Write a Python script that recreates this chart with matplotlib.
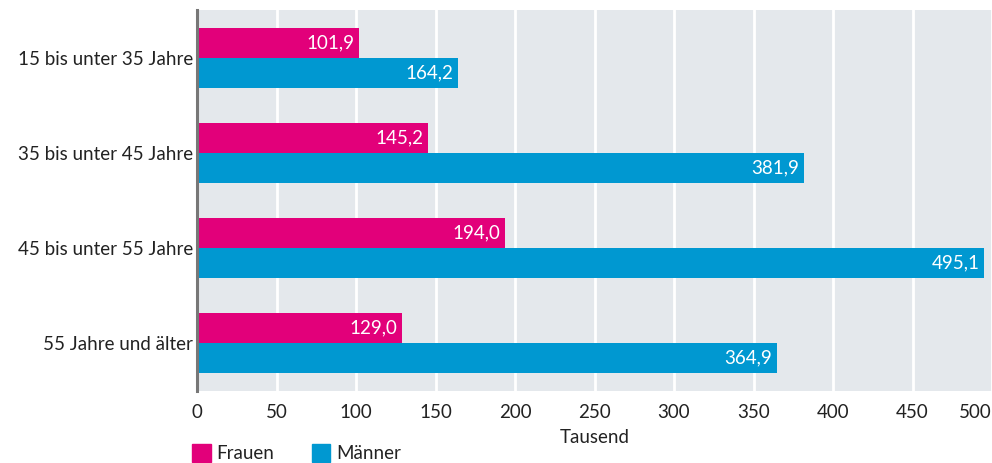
import numpy as np
import matplotlib.pyplot as plt
from matplotlib.patches import Patch

plt.rcParams['font.family'] = ['Lato', 'DejaVu Sans']

# Data
categories = ['15 bis unter 35 Jahre', '35 bis unter 45 Jahre',
              '45 bis unter 55 Jahre', '55 Jahre und älter']
frauen = [101.9, 145.2, 194.0, 129.0]
maenner = [164.2, 381.9, 495.1, 364.9]
ticks = [0, 50, 100, 150, 200, 250, 300, 350, 400, 450, 500]

c_frauen = '#e2007a'
c_maenner = '#0098d1'
fs = 13.5

fig = plt.figure(figsize=(9.92, 4.63), dpi=100)
ax = fig.add_axes([197/992, 1 - 391/463, 1 - 197/992, 381/463])
ax.set_facecolor('#e4e8ec')

y = np.arange(len(categories))
h = 0.316
ax.barh(y - h/2, frauen, h, color=c_frauen, zorder=3)
ax.barh(y + h/2, maenner, h, color=c_maenner, zorder=3)

def fmt(v):
    return f'{v:.1f}'.replace('.', ',')

for i in range(len(categories)):
    ax.text(frauen[i] - 3, y[i] - h/2, fmt(frauen[i]), color='white',
            ha='right', va='center', fontsize=fs, zorder=4)
    ax.text(maenner[i] - 3, y[i] + h/2, fmt(maenner[i]), color='white',
            ha='right', va='center', fontsize=fs, zorder=4)

ax.set_xlim(0, 500)
ax.set_ylim(len(categories) - 0.5 + 0.005, -0.5 - 0.005)
ax.set_yticks(y)
ax.set_yticklabels(categories, fontsize=fs, color='#222222')
ax.set_xticks(ticks)
ax.set_xticklabels([str(t) for t in ticks], fontsize=fs, color='#222222')
ax.get_xticklabels()[-1].set_horizontalalignment('right')
ax.get_xticklabels()[-1].set_x(503)
ax.tick_params(axis='both', length=0, pad=3)
ax.tick_params(axis='x', pad=9)

ax.grid(axis='x', color='white', linewidth=2, zorder=1)
ax.set_axisbelow(True)
for s in ['top', 'right', 'bottom']:
    ax.spines[s].set_visible(False)
ax.spines['left'].set_color('#777777')
ax.spines['left'].set_linewidth(2.2)
ax.spines['left'].set_zorder(5)

ax.set_xlabel('Tausend', fontsize=fs, color='#222222', labelpad=6)

handles = [Patch(color=c_frauen, label='Frauen'), Patch(color=c_maenner, label='Männer')]
fig.legend(handles=handles, loc='lower left', bbox_to_anchor=(175/992, -0.035),
           ncol=2, frameon=False, fontsize=fs, handlelength=1.0, handleheight=1.1,
           handletextpad=0.3, columnspacing=2.0, labelcolor='#222222')

fig.savefig('out.png', dpi=100)
